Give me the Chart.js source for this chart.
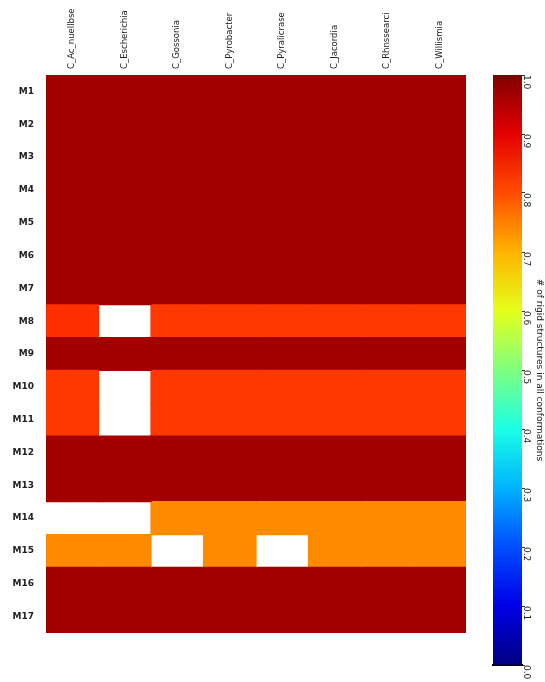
<!DOCTYPE html>
<html>
<head>
  <meta charset="UTF-8">
  <script src="https://cdn.jsdelivr.net/npm/chart.js@4.4.1/dist/chart.umd.min.js"></script>
  <style>
    body { margin: 0; background: #fff; }
    #heat { position: absolute; left: 0; top: 0; }
    #bar { position: absolute; left: 480px; top: 0; }
  </style>
</head>
<body>
  <canvas id="heat" width="480" height="682"></canvas>
  <canvas id="bar" width="65" height="682"></canvas>
  <script>
    // rows / columns of the heatmap
    const rowLabels = ['M1','M2','M3','M4','M5','M6','M7','M8','M9','M10','M11','M12','M13','M14','M15','M16','M17'];
    const colLabels = ['C_Ac_nuellbse','C_Escherichia','C_Gossonia','C_Pyrobacter','C_Pyralicrase','C_Jacordia','C_Rhnssearci','C_Willismia'];

    // one list per row, null = no value (left blank)
    const cellValues = [
      [0.965, 0.965, 0.965, 0.965, 0.965, 0.965, 0.965, 0.965],
      [0.965, 0.965, 0.965, 0.965, 0.965, 0.965, 0.965, 0.965],
      [0.965, 0.965, 0.965, 0.965, 0.965, 0.965, 0.965, 0.965],
      [0.965, 0.965, 0.965, 0.965, 0.965, 0.965, 0.965, 0.965],
      [0.965, 0.965, 0.965, 0.965, 0.965, 0.965, 0.965, 0.965],
      [0.965, 0.965, 0.965, 0.965, 0.965, 0.965, 0.965, 0.965],
      [0.965, 0.965, 0.965, 0.965, 0.965, 0.965, 0.965, 0.965],
      [0.83, null, 0.82, 0.82, 0.82, 0.82, 0.82, 0.82],
      [0.965, 0.965, 0.965, 0.965, 0.965, 0.965, 0.965, 0.965],
      [0.82, null, 0.82, 0.82, 0.82, 0.82, 0.82, 0.82],
      [0.82, null, 0.82, 0.82, 0.82, 0.82, 0.82, 0.82],
      [0.965, 0.965, 0.965, 0.965, 0.965, 0.965, 0.965, 0.965],
      [0.965, 0.965, 0.965, 0.965, 0.965, 0.965, 0.965, 0.965],
      [null, null, 0.74, 0.74, 0.74, 0.74, 0.74, 0.74],
      [0.74, 0.74, null, 0.74, null, 0.74, 0.74, 0.74],
      [0.965, 0.965, 0.965, 0.965, 0.965, 0.965, 0.965, 0.965],
      [0.965, 0.965, 0.965, 0.965, 0.965, 0.965, 0.965, 0.965]
    ];

    const cbarMin = 0, cbarMax = 1, cbarStep = 0.1;
    const cbarTitle = '# of rigid structures in all conformations';

    // matplotlib style jet colormap
    function jet(v) {
      const t = (v - cbarMin) / (cbarMax - cbarMin);
      const c = x => Math.round(255 * Math.max(0, Math.min(1, x)));
      return 'rgb(' + c(1.5 - Math.abs(4*t - 3)) + ',' + c(1.5 - Math.abs(4*t - 2)) + ',' + c(1.5 - Math.abs(4*t - 1)) + ')';
    }

    Chart.defaults.font.family = 'DejaVu Sans';
    Chart.defaults.font.size = 9;
    Chart.defaults.color = '#222';

    // each column is a dataset of floating bars [col, col+1]
    const datasets = colLabels.map((name, c) => ({
      label: name,
      data: rowLabels.map((r, i) => cellValues[i][c] == null ? null : [c, c + 1]),
      backgroundColor: rowLabels.map((r, i) => cellValues[i][c] == null ? 'rgba(0,0,0,0)' : jet(cellValues[i][c])),
      borderWidth: 0,
      inflateAmount: 0.6,
      grouped: false,
      barPercentage: 1,
      categoryPercentage: 1
    }));

    new Chart(document.getElementById('heat'), {
      type: 'bar',
      data: { labels: rowLabels, datasets: datasets },
      options: {
        responsive: false,
        animation: false,
        indexAxis: 'y',
        layout: { padding: { left: 0, right: 14, top: 0, bottom: 49 } },
        plugins: { legend: { display: false }, tooltip: { enabled: false } },
        scales: {
          x: {
            type: 'linear',
            position: 'top',
            min: 0,
            max: colLabels.length,
            grid: { display: false },
            border: { display: false },
            afterBuildTicks: axis => { axis.ticks = colLabels.map((n, i) => ({ value: i + 0.5 })); },
            afterFit: axis => { axis.height = 75; },
            ticks: {
              autoSkip: false,
              minRotation: 90,
              maxRotation: 90,
              padding: -2,
              labelOffset: 10,
              font: { size: 8.5 },
              callback: v => colLabels[Math.floor(v)]
            }
          },
          y: {
            grid: { display: false },
            border: { display: false },
            afterFit: axis => { axis.width = 46; },
            ticks: { padding: 4, font: { weight: 'bold' } }
          }
        }
      }
    });

    // colour bar
    const cbarStops = [0, 0.1, 0.2, 0.3, 0.4, 0.5, 0.6, 0.7, 0.8, 0.9, 1];
    new Chart(document.getElementById('bar'), {
      type: 'bar',
      data: {
        labels: [''],
        datasets: [{
          data: [[cbarMin, cbarMax]],
          borderWidth: 0,
          barPercentage: 1,
          categoryPercentage: 1,
          backgroundColor: ctx => {
            const area = ctx.chart.chartArea;
            if (!area) return null;
            const g = ctx.chart.ctx.createLinearGradient(0, area.bottom, 0, area.top);
            cbarStops.forEach(s => g.addColorStop(s, jet(cbarMin + s * (cbarMax - cbarMin))));
            return g;
          }
        }]
      },
      options: {
        responsive: false,
        animation: false,
        layout: { padding: { left: 13, right: 0, top: 75, bottom: 17 } },
        plugins: { legend: { display: false }, tooltip: { enabled: false } },
        scales: {
          x: {
            display: true,
            grid: { display: false },
            border: { display: true, color: '#000', width: 2 },
            ticks: { display: false },
            afterFit: axis => { axis.height = 0; }
          },
          y: {
            position: 'right',
            min: cbarMin,
            max: cbarMax,
            grid: { drawOnChartArea: false, tickLength: 3, color: '#333' },
            border: { display: false },
            afterFit: axis => { axis.width = 23; },
            ticks: {
              stepSize: cbarStep,
              minRotation: -90,
              maxRotation: -90,
              padding: 1,
              callback: v => v.toFixed(1)
            },
            title: { display: true, text: cbarTitle, padding: 0 }
          }
        }
      }
    });
  </script>
</body>
</html>
